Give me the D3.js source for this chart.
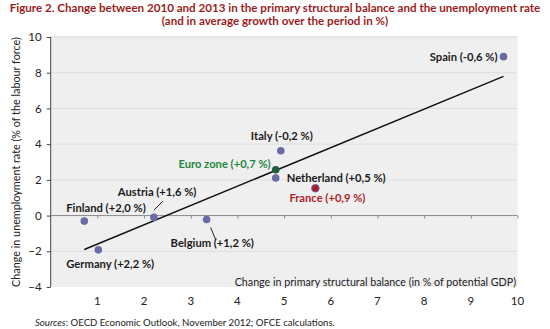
<!DOCTYPE html>
<html>
<head>
<meta charset="utf-8">
<script src="https://cdn.jsdelivr.net/npm/d3@7"></script>
<style>
  body { margin: 0; background: #fff; }
  text { font-family: Lato, "Open Sans", sans-serif; }
</style>
</head>
<body>
<div id="chart"></div>
<script>
var W = 550, H = 329;

// data
var countries = ["Spain", "Italy", "Euro zone", "Netherland", "France", "Austria", "Finland", "Germany", "Belgium"];
var balance = [9.7, 4.93, 4.82, 4.82, 5.67, 2.21, 0.72, 1.02, 3.34];
var unemployment = [8.9, 3.63, 2.57, 2.1, 1.53, -0.09, -0.31, -1.92, -0.22];
var growth = ["-0,6 %", "-0,2 %", "+0,7 %", "+0,5 %", "+0,9 %", "+1,6 %", "+2,0 %", "+2,2 %", "+1,2 %"];
var trendX = [0.72, 9.7];
var trendY = [-1.9, 7.8];
var xTicks = [1, 2, 3, 4, 5, 6, 7, 8, 9, 10];
var yTicks = [-4, -2, 0, 2, 4, 6, 8, 10];

// label placement (pixels, relative to the point)
var labelPos = {
  "Spain":      {dx: -6,  dy: 4,   anchor: "end"},
  "Italy":      {dx: 1,   dy: -11, anchor: "middle"},
  "Euro zone":  {dx: -5,  dy: -2,  anchor: "end"},
  "Netherland": {dx: 11,  dy: 4,   anchor: "start"},
  "France":     {dx: -26, dy: 14,  anchor: "start"},
  "Austria":    {dx: -36, dy: -21, anchor: "start"},
  "Finland":    {dx: -18, dy: -9,  anchor: "start"},
  "Germany":    {dx: -32, dy: 18,  anchor: "start"},
  "Belgium":    {dx: -36, dy: 27,  anchor: "start"}
};
var leaders = {
  "Austria": [[9, -16], [0, -7]],
  "Belgium": [[4, 8], [9, 20]]
};

var pointFill = {"Euro zone": "#1d5e3b", "France": "#a51e24"};
var labelFill = {"Euro zone": "#1f8740", "France": "#b0232a"};

var svg = d3.select("#chart").append("svg")
  .attr("width", W).attr("height", H);

var x = d3.scaleLinear().domain([0, 10]).range([50.7, 517.5]);
var y = d3.scaleLinear().domain([-4, 10]).range([287, 37]);

// title
svg.append("g").selectAll("text")
  .data(["Figure 2. Change between 2010 and 2013 in the primary structural balance and the unemployment rate",
         "(and in average growth over the period in %)"])
  .join("text")
  .attr("x", W / 2)
  .attr("y", (d, i) => 12 + i * 13)
  .attr("text-anchor", "middle")
  .attr("font-size", 11.6)
  .attr("font-weight", "bold")
  .attr("fill", "#9b1c22")
  .text(d => d);

// plot background
svg.append("rect")
  .attr("x", x(0)).attr("y", 36)
  .attr("width", x(10) - x(0)).attr("height", y(-4) - 36)
  .attr("fill", "#efefef");

// gridlines
svg.append("g").selectAll("line")
  .data(yTicks.filter(d => d !== 0 && d !== -4))
  .join("line")
  .attr("x1", x(0)).attr("x2", x(10))
  .attr("y1", d => y(d)).attr("y2", d => y(d))
  .attr("stroke", "#dedede").attr("stroke-width", 1);

// y axis
var yAxis = d3.axisLeft(y).tickValues(yTicks).tickSize(4).tickPadding(5).tickFormat(d3.format("d"));
var gy = svg.append("g").attr("transform", "translate(" + x(0) + ",0)").call(yAxis);
gy.select(".domain").attr("stroke", "#444").attr("d", "M0," + y(-4) + "V" + y(10));
gy.selectAll(".tick line").attr("stroke", "#444");
gy.selectAll(".tick text").attr("font-size", 11.5).attr("fill", "#222").attr("font-family", "Lato, sans-serif");

// zero line with ticks
var xAxis = d3.axisBottom(x).tickValues(xTicks).tickSize(3).tickFormat("");
var gx = svg.append("g").attr("transform", "translate(0," + y(0) + ")").call(xAxis);
gx.select(".domain").attr("stroke", "#8a8a8a").attr("d", "M" + x(0) + ",0H" + x(10));
gx.selectAll(".tick line").attr("stroke", "#8a8a8a");

// x tick labels under the plot
svg.append("g").selectAll("text")
  .data(xTicks)
  .join("text")
  .attr("x", d => x(d))
  .attr("y", 305)
  .attr("text-anchor", "middle")
  .attr("font-size", 11.5)
  .attr("fill", "#222")
  .text(d => d);

// axis titles
svg.append("text")
  .attr("transform", "translate(20,162) rotate(-90)")
  .attr("text-anchor", "middle")
  .attr("font-size", 10.8)
  .attr("fill", "#222")
  .text("Change in unemployment rate (% of the labour force)");

svg.append("text")
  .attr("x", 516).attr("y", 286)
  .attr("text-anchor", "end")
  .attr("font-size", 10.7)
  .attr("fill", "#222")
  .text("Change in primary structural balance (in % of potential GDP)");

// trend line
svg.append("line")
  .attr("x1", x(trendX[0])).attr("y1", y(trendY[0]))
  .attr("x2", x(trendX[1])).attr("y2", y(trendY[1]))
  .attr("stroke", "#111").attr("stroke-width", 1.4);

var pts = countries.map((c, i) => ({name: c, bx: balance[i], uy: unemployment[i], g: growth[i]}));

// leader lines
svg.append("g").selectAll("line")
  .data(pts.filter(d => leaders[d.name]))
  .join("line")
  .attr("x1", d => x(d.bx) + leaders[d.name][0][0])
  .attr("y1", d => y(d.uy) + leaders[d.name][0][1])
  .attr("x2", d => x(d.bx) + leaders[d.name][1][0])
  .attr("y2", d => y(d.uy) + leaders[d.name][1][1])
  .attr("stroke", "#222").attr("stroke-width", 1);

// points
svg.append("g").selectAll("circle")
  .data(pts)
  .join("circle")
  .attr("cx", d => x(d.bx))
  .attr("cy", d => y(d.uy))
  .attr("r", 3.8)
  .attr("fill", d => pointFill[d.name] || "#6a6aa6")
  .attr("stroke", d => d.name === "France" ? "#6a6aa6" : "none")
  .attr("stroke-width", 1);

// labels
svg.append("g").selectAll("text")
  .data(pts)
  .join("text")
  .attr("x", d => x(d.bx) + labelPos[d.name].dx)
  .attr("y", d => y(d.uy) + labelPos[d.name].dy)
  .attr("text-anchor", d => labelPos[d.name].anchor)
  .attr("font-size", 11.2)
  .attr("font-weight", "bold")
  .attr("fill", d => labelFill[d.name] || "#1a1a1a")
  .text(d => d.name + " (" + d.g + ")");

// source note
var src = svg.append("text")
  .attr("x", 35).attr("y", 326)
  .attr("font-size", 9.6)
  .attr("fill", "#222");
src.append("tspan").attr("font-style", "italic").text("Sources");
src.append("tspan").text(": OECD Economic Outlook, November 2012; OFCE calculations.");
</script>
</body>
</html>
